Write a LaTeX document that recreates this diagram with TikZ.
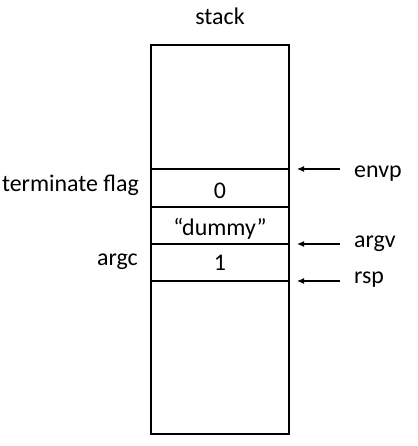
\documentclass[tikz,border=0pt]{standalone}
\usepackage{fontspec}
\setmainfont{Carlito}
\usetikzlibrary{positioning,arrows.meta}

\begin{document}
\begin{tikzpicture}[
  x=1bp, y=-1bp,
  every node/.style={font=\fontsize{24}{28}\selectfont, inner sep=0pt},
  cell/.style={draw, line width=1.4bp, minimum width=138bp},
  lbl/.style={anchor=base east},
  ptrlbl/.style={anchor=base west},
  ptr/.style={-{Latex[length=7bp,width=6bp]}, line width=1.2bp}
]
\useasboundingbox (0,0) rectangle (417,446);

% ---------------- Stack frame ----------------
\node[cell, minimum height=389bp] (stk) at (220,239.5) {};
\node[anchor=base] (title) at (220,25) {stack};

% cells holding the start-up values
\draw[line width=1.4bp] (151,169) rectangle (289,207) coordinate (flagse);
\draw[line width=1.4bp] (151,244) rectangle (289,281) coordinate (argcse);
\node[anchor=base] (flag) at (220,199) {0};
\node[anchor=base] (dummy) at (220,235) {``dummy''};
\node[anchor=base] (argc) at (220,270) {1};

% left side labels
\node[lbl] (flaglbl) at (139,192) {terminate flag};
\node[lbl] (argclbl) at (138,265) {argc};

% ---------------- Pointers ----------------
\node[ptrlbl] (envp) at (354,178) {envp};
\node[ptrlbl] (argv) at (354,247) {argv};
\node[ptrlbl] (rsp) at (354,283) {rsp};

\coordinate (envpto) at (297,169);
\coordinate (argvto) at (297,244);
\coordinate (rspto) at (297,281);

\draw[ptr] (envpto -| 340,0) -- (envpto);
\draw[ptr] (argvto -| 340,0) -- (argvto);
\draw[ptr] (rspto -| 340,0) -- (rspto);

\end{tikzpicture}
\end{document}
